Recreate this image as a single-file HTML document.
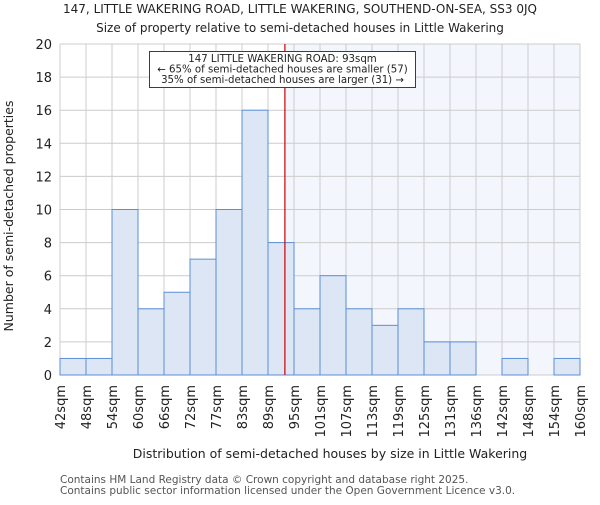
<!DOCTYPE html>
<html><head><meta charset="utf-8"><style>
body{margin:0;background:#fff}
svg text{font-family:"DejaVu Sans","Liberation Sans",sans-serif;fill:#222}
</style></head><body>
<svg id="c" width="600" height="500" xmlns="http://www.w3.org/2000/svg">
<text x="300" y="13" font-size="12" text-anchor="middle">147, LITTLE WAKERING ROAD, LITTLE WAKERING, SOUTHEND-ON-SEA, SS3 0JQ</text>
<text x="300" y="32" font-size="12" text-anchor="middle">Size of property relative to semi-detached houses in Little Wakering</text>
<g id="plot"></g>
<text x="330" y="458" font-size="12.5" text-anchor="middle">Distribution of semi-detached houses by size in Little Wakering</text>
<text transform="translate(13,216) rotate(-90)" font-size="12.5" text-anchor="middle">Number of semi-detached properties</text>
<text x="60" y="483" font-size="10.5" style="fill:#555">Contains HM Land Registry data © Crown copyright and database right 2025.</text>
<text x="60" y="494" font-size="10.5" style="fill:#555">Contains public sector information licensed under the Open Government Licence v3.0.</text>
</svg>
<script>
const binLabels=["42sqm","48sqm","54sqm","60sqm","66sqm","72sqm","77sqm","83sqm","89sqm","95sqm","101sqm","107sqm","113sqm","119sqm","125sqm","131sqm","136sqm","142sqm","148sqm","154sqm","160sqm"];
const counts=[1,1,10,4,5,7,10,16,8,4,6,4,3,4,2,2,0,1,0,1];
const yTicks=[0,2,4,6,8,10,12,14,16,18,20];
const markerPos=8.65;
const NS="http://www.w3.org/2000/svg";
const g=document.getElementById('plot');
const X0=60,X1=580,Y0=375,Y1=44,yMax=20;
const bw=(X1-X0)/counts.length;
const x=i=>X0+i*bw, y=v=>Y0-(v/yMax)*(Y0-Y1);
function mk(t,a){const e=document.createElementNS(NS,t);for(const k in a)e.setAttribute(k,a[k]);g.appendChild(e);return e;}
const mx=x(markerPos);
let e=mk('rect',{x:mx,y:Y1,width:X1-mx,height:Y0-Y1,fill:'#f3f6fd'});


yTicks.forEach(t=>{let l=mk('line',{x1:X0,x2:X1,y1:y(t),y2:y(t),stroke:'#ccc','stroke-width':1});


let tx=mk('text',{x:X0-8,y:y(t)+5,'font-size':13,'text-anchor':'end'});tx.textContent=t;

});
binLabels.forEach((s,i)=>{let l=mk('line',{x1:x(i),x2:x(i),y1:Y1,y2:Y0,stroke:'#ccc','stroke-width':1});


let tx=mk('text',{transform:`translate(${x(i)+5},${Y0+10}) rotate(-90)`,'font-size':13,'text-anchor':'end'});tx.textContent=s;

});
counts.forEach((v,i)=>{if(!v)return;let r=mk('rect',{x:x(i),y:y(v),width:bw,height:Y0-y(v),fill:'#dce6f5',stroke:'#5b8fd8','stroke-width':1});

});
e=mk('line',{x1:mx,x2:mx,y1:Y1,y2:Y0,stroke:'#cc0000','stroke-width':1.2});


e=mk('rect',{x:149.5,y:51.5,width:266,height:36,fill:'#fff',stroke:'#cc0000','stroke-width':1});
e.style.stroke='#cc0000';


["147 LITTLE WAKERING ROAD: 93sqm","← 65% of semi-detached houses are smaller (57)","35% of semi-detached houses are larger (31) →"].forEach((s,i)=>{
let t=mk('text',{x:282.5,y:62+i*10.5,'font-size':10.2,'text-anchor':'middle'});t.textContent=s;

});
</script>
</body></html>
